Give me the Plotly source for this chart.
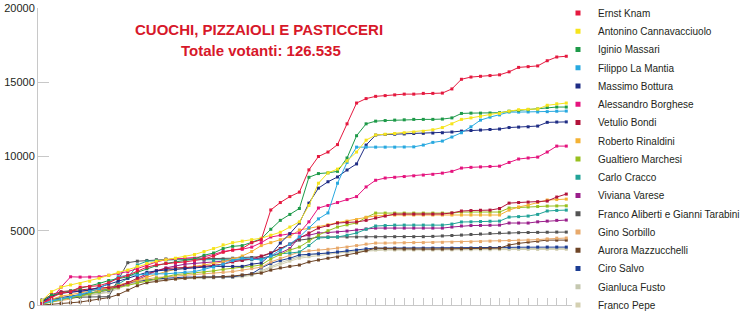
import plotly.graph_objects as go

# ---- data -------------------------------------------------------------
rilevazioni = list(range(56))

ernst_knam = [100, 500, 800, 900, 1200, 1250, 1300, 1500,
              1800, 2000, 2300, 2550, 2700, 2800, 2850, 2900,
              3000, 3100, 3300, 3550, 3700, 3800, 4200, 4400,
              6400, 6900, 7300, 7600, 9100, 10000, 10300, 10800,
              12200, 13600, 13900, 14050, 14100, 14150, 14200, 14200,
              14250, 14250, 14270, 14550, 15200, 15350, 15400, 15450,
              15500, 15700, 16000, 16050, 16100, 16450, 16700, 16750]
antonino_cannavacciuolo = [300, 900, 1200, 1350, 1450, 1600, 1800, 2000,
                           2200, 2350, 2600, 2800, 2950, 3050, 3150, 3250,
                           3400, 3600, 3800, 4050, 4200, 4300, 4400, 4500,
                           4700, 4900, 5250, 5600, 6700, 8200, 8900, 9150,
                           9700, 10300, 11100, 11450, 11500, 11550, 11600, 11650,
                           11700, 11800, 11950, 12200, 12500, 12600, 12700, 12800,
                           12900, 13050, 13150, 13180, 13200, 13450, 13550, 13600]
iginio_massari = [300, 650, 800, 950, 1100, 1250, 1450, 1650,
                  1800, 1900, 2200, 2450, 2650, 2800, 2900, 3000,
                  3100, 3350, 3500, 3800, 3950, 4000, 4200, 4450,
                  5100, 5700, 6100, 6500, 8600, 8850, 8900, 9000,
                  9900, 11400, 12200, 12380, 12420, 12450, 12470, 12500,
                  12500, 12500, 12520, 12600, 12900, 12920, 12920, 12930,
                  12950, 13050, 13100, 13150, 13200, 13300, 13330, 13330]
filippo_la_mantia = [100, 250, 400, 500, 700, 900, 1100, 1500,
                     1900, 2000, 2050, 2100, 2100, 2100, 2150, 2200,
                     2250, 2400, 2550, 2750, 3000, 3150, 3100, 3030,
                     3300, 3700, 4100, 4580, 5200, 5800, 6200, 8200,
                     9600, 10630, 10630, 10630, 10630, 10630, 10640, 10650,
                     10770, 10950, 11040, 11310, 11600, 12000, 12450, 12650,
                     12800, 12990, 12990, 13000, 13000, 13020, 13050, 13060]
massimo_bottura = [200, 600, 800, 850, 900, 1000, 1200, 1400,
                   1600, 1800, 2000, 2200, 2300, 2350, 2400, 2450,
                   2500, 2550, 2600, 2600, 2600, 2600, 2750, 2830,
                   3400, 4170, 4800, 5520, 6860, 7870, 8300, 8620,
                   9090, 9500, 10770, 11440, 11480, 11500, 11520, 11550,
                   11560, 11580, 11600, 11650, 11710, 11750, 11780, 11820,
                   11850, 11950, 11980, 12000, 12050, 12300, 12320, 12330]
alessandro_borghese = [100, 400, 1200, 1900, 1880, 1880, 1900, 2000,
                       2100, 2250, 2450, 2700, 2900, 3050, 3100, 3100,
                       3150, 3250, 3400, 3600, 3700, 3750, 3900, 4200,
                       4580, 4700, 4800, 4850, 5600, 6530, 6700, 6900,
                       7100, 7300, 7950, 8400, 8550, 8600, 8650, 8700,
                       8750, 8800, 8880, 9000, 9220, 9270, 9300, 9330,
                       9350, 9600, 9830, 9900, 9960, 10300, 10700, 10700]
vetulio_bondi = [300, 700, 900, 950, 1000, 1050, 1100, 1150,
                 1250, 1500, 1800, 2100, 2300, 2450, 2500, 2550,
                 2550, 2600, 2650, 2750, 2900, 3000, 3100, 3300,
                 3500, 3800, 4100, 4500, 4850, 5180, 5350, 5520,
                 5560, 5590, 5700, 5860, 5990, 6120, 6120, 6120,
                 6120, 6120, 6130, 6200, 6330, 6360, 6380, 6390,
                 6500, 6860, 6900, 6930, 6960, 7000, 7270, 7470]
roberto_rinaldini = [150, 400, 600, 700, 800, 900, 1000, 1150,
                     1300, 1500, 1700, 1900, 2100, 2250, 2400, 2500,
                     2600, 2700, 2800, 2900, 3100, 3300, 3600, 4000,
                     4200, 4400, 4600, 5050, 5150, 5250, 5400, 5550,
                     5650, 5750, 5900, 6000, 6050, 6060, 6060, 6060,
                     6060, 6060, 6060, 6060, 6060, 6060, 6060, 6060,
                     6060, 6390, 6600, 6730, 6900, 7070, 7100, 7130]
gualtiero_marchesi = [50, 200, 400, 500, 600, 750, 900, 1050,
                      1200, 1350, 1500, 1650, 1800, 1950, 2050, 2100,
                      2150, 2200, 2300, 2400, 2500, 2550, 2600, 2700,
                      3100, 3400, 3700, 3900, 4300, 4710, 5000, 5250,
                      5400, 5520, 5900, 6190, 6190, 6190, 6190, 6190,
                      6190, 6190, 6190, 6190, 6260, 6260, 6260, 6260,
                      6260, 6530, 6570, 6600, 6630, 6660, 6670, 6680]
carlo_cracco = [200, 300, 400, 500, 600, 800, 900, 1100,
                1400, 1800, 2700, 2950, 3000, 3050, 3050, 3050,
                3050, 3050, 3000, 3000, 3000, 3000, 3050, 3100,
                3300, 3450, 3500, 3570, 4000, 4510, 4550, 4580,
                4700, 4850, 5100, 5320, 5350, 5380, 5380, 5380,
                5380, 5380, 5380, 5450, 5590, 5600, 5620, 5640,
                5650, 5920, 5950, 5990, 6100, 6330, 6370, 6390]
viviana_varese = [150, 600, 800, 850, 900, 950, 1000, 1100,
                  1200, 1400, 1700, 2000, 2300, 2500, 2650, 2750,
                  2800, 2850, 2900, 2950, 3000, 3050, 3100, 3150,
                  3300, 3500, 3800, 4580, 4700, 4850, 4880, 4910,
                  4980, 5050, 5120, 5180, 5180, 5180, 5180, 5180,
                  5180, 5180, 5180, 5250, 5320, 5350, 5360, 5370,
                  5380, 5520, 5520, 5520, 5600, 5650, 5700, 5720]
aliberti_tarabini = [350, 400, 450, 500, 520, 540, 550, 560,
                     1700, 2850, 2950, 3000, 3050, 3100, 3100, 3100,
                     3100, 3100, 3100, 3100, 3150, 3200, 3200, 3250,
                     3500, 3800, 4100, 4370, 4450, 4580, 4580, 4580,
                     4580, 4580, 4580, 4590, 4590, 4600, 4600, 4600,
                     4600, 4620, 4650, 4680, 4710, 4750, 4780, 4820,
                     4850, 4860, 4870, 4880, 4890, 4900, 4910, 4910]
gino_sorbillo = [100, 200, 300, 400, 600, 800, 1000, 1200,
                 1350, 1500, 1650, 1750, 1850, 1900, 1950, 2000,
                 2050, 2100, 2150, 2200, 2250, 2350, 2450, 2550,
                 2900, 3150, 3350, 3570, 3650, 3700, 3750, 3830,
                 3900, 4000, 4100, 4170, 4170, 4180, 4190, 4200,
                 4200, 4210, 4220, 4230, 4240, 4250, 4270, 4300,
                 4320, 4340, 4360, 4370, 4400, 4450, 4500, 4510]
aurora_mazzucchelli = [0, 50, 100, 150, 200, 300, 400, 500,
                       700, 1000, 1300, 1500, 1600, 1700, 1750, 1800,
                       1850, 1880, 1880, 1900, 1950, 2020, 2100, 2150,
                       2350, 2500, 2600, 2690, 2900, 3030, 3150, 3230,
                       3350, 3500, 3650, 3830, 3800, 3780, 3770, 3770,
                       3770, 3770, 3770, 3780, 3790, 3800, 3810, 3820,
                       3830, 4040, 4150, 4240, 4300, 4370, 4370, 4370]
ciro_salvo = [200, 400, 500, 600, 700, 800, 900, 1000,
              1300, 1500, 1600, 1700, 1750, 1800, 1850, 1880,
              1880, 1880, 1890, 1900, 1900, 2000, 2100, 2500,
              2800, 3000, 3150, 3370, 3400, 3450, 3500, 3570,
              3650, 3700, 3780, 3830, 3830, 3830, 3830, 3830,
              3830, 3830, 3830, 3830, 3830, 3840, 3850, 3860,
              3870, 3880, 3890, 3890, 3900, 3900, 3900, 3900]
gianluca_fusto = [100, 300, 400, 500, 600, 700, 800, 900,
                  1200, 1400, 1550, 1650, 1700, 1750, 1800, 1800,
                  1820, 1840, 1850, 1860, 1880, 1950, 2050, 2300,
                  2600, 2850, 3050, 3250, 3350, 3450, 3500, 3550,
                  3600, 3650, 3700, 3750, 3760, 3760, 3760, 3760,
                  3760, 3760, 3770, 3770, 3770, 3780, 3780, 3780,
                  3790, 3790, 3800, 3800, 3800, 3810, 3810, 3820]
franco_pepe = [50, 250, 350, 450, 550, 650, 750, 850,
               1100, 1350, 1500, 1600, 1650, 1700, 1750, 1780,
               1800, 1810, 1820, 1830, 1850, 1900, 2000, 2200,
               2500, 2750, 2950, 3150, 3250, 3350, 3450, 3500,
               3550, 3600, 3650, 3700, 3700, 3700, 3700, 3700,
               3700, 3700, 3700, 3710, 3710, 3720, 3720, 3720,
               3730, 3730, 3740, 3740, 3740, 3750, 3750, 3750]

nomi = ["Ernst Knam", "Antonino Cannavacciuolo", "Iginio Massari",
        "Filippo La Mantia", "Massimo Bottura", "Alessandro Borghese",
        "Vetulio Bondi", "Roberto Rinaldini", "Gualtiero Marchesi",
        "Carlo Cracco", "Viviana Varese", "Franco Aliberti e Gianni Tarabini",
        "Gino Sorbillo", "Aurora Mazzucchelli", "Ciro Salvo",
        "Gianluca Fusto", "Franco Pepe"]
valori = [ernst_knam, antonino_cannavacciuolo, iginio_massari,
          filippo_la_mantia, massimo_bottura, alessandro_borghese,
          vetulio_bondi, roberto_rinaldini, gualtiero_marchesi,
          carlo_cracco, viviana_varese, aliberti_tarabini,
          gino_sorbillo, aurora_mazzucchelli, ciro_salvo,
          gianluca_fusto, franco_pepe]
colori = ["#e5193f", "#f6e41c", "#1e9a49", "#28a9e0", "#1f2d85",
          "#e5147e", "#b2133b", "#f4b234", "#98c01f", "#22a398",
          "#9a1f8b", "#545454", "#e8a96b", "#6e4527", "#1c3d93",
          "#c5c8b0", "#d4d0b1"]

titolo_1 = "CUOCHI, PIZZAIOLI E PASTICCERI"
titolo_2 = "Totale votanti: 126.535"

# ---- figure -----------------------------------------------------------
W, H = 750, 314
L, R, T, B = 38, 178, 8, 9
pw, ph = W - L - R, H - T - B

fig = go.Figure()
for nome, vals, col in reversed(list(zip(nomi, valori, colori))):
    fig.add_trace(go.Scatter(
        x=rilevazioni, y=vals, mode="lines+markers", name=nome,
        line=dict(color=col, width=1),
        marker=dict(symbol="square", size=3, color=col),
        showlegend=False, hoverinfo="skip"))

legend_font = dict(family="Liberation Sans, Arial, sans-serif",
                   size=10, color="#231f20")
leg_left = 558
legends = {}
for k, (nome, col) in enumerate(zip(nomi, colori)):
    key = "legend" if k == 0 else f"legend{k + 1}"
    fig.add_trace(go.Scatter(
        x=[None], y=[None], mode="markers", name=nome,
        marker=dict(symbol="square", size=5, color=col),
        legend=key, showlegend=True))
    yc = 13 + k * 18.25
    legends[key] = dict(x=(leg_left - L) / pw, xanchor="left",
                        y=(H - B - yc) / ph, yanchor="middle",
                        font=legend_font, bgcolor="rgba(0,0,0,0)",
                        borderwidth=0)

title_font = dict(family="Liberation Sans, Arial, sans-serif",
                  size=15, color="#d7182a", weight="bold")

fig.update_layout(
    width=W, height=H,
    margin=dict(l=L, r=R, t=T, b=B, autoexpand=False),
    paper_bgcolor="white", plot_bgcolor="white",
    font=dict(family="Liberation Sans, Arial, sans-serif", size=11, color="#231f20"),
    xaxis=dict(range=[-0.42, 55.6], showgrid=False, zeroline=False,
               showline=True, linecolor="#c8c8c8", linewidth=1,
               ticks="inside", ticklen=7, tickcolor="#c8c8c8", tickwidth=1,
               dtick=1, tick0=0, showticklabels=False),
    yaxis=dict(range=[0, 20000], showgrid=False, zeroline=False,
               showline=True, linecolor="#c8c8c8", linewidth=1,
               ticks="inside", ticklen=11, tickcolor="#c8c8c8", tickwidth=1,
               dtick=5000, tick0=0, tickformat="d",
               tickfont=dict(size=11, color="#231f20")),
    annotations=[
        dict(text=titolo_1, x=(259 - L) / pw, y=(H - B - 29) / ph,
             xref="paper", yref="paper", xanchor="center", yanchor="middle",
             showarrow=False, font=title_font),
        dict(text=titolo_2, x=(261 - L) / pw, y=(H - B - 50) / ph,
             xref="paper", yref="paper", xanchor="center", yanchor="middle",
             showarrow=False, font=title_font),
    ],
    **legends,
)

fig.write_html("out.html")
